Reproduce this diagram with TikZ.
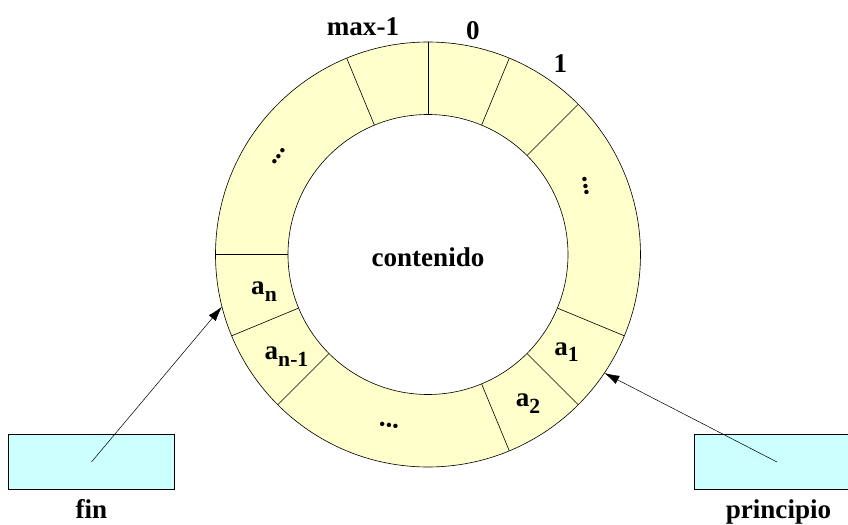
\documentclass[tikz,border=0pt]{standalone}
\usepackage{fontspec}
\setmainfont{Liberation Serif}
\usetikzlibrary{arrows.meta}
\definecolor{celda}{RGB}{255,255,204}
\definecolor{caja}{RGB}{204,255,255}
\newcommand{\sbi}[1]{\raisebox{-3.8pt}{\fontsize{12.3}{14}\selectfont #1}}
\tikzset{
  lbl/.style={font=\bfseries\fontsize{15.4}{18}\selectfont, inner sep=0pt, anchor=base},
  puntos/.style={font=\bfseries\fontsize{15.4}{18}\selectfont, inner sep=0pt},
  cajon/.style={draw, fill=caja, line width=0.6pt, minimum width=3.31cm, minimum height=1.11cm, inner sep=0pt},
  flecha/.style={line width=0.3pt, -{Latex[length=0.3cm,width=0.18cm]}}
}
\begin{document}
\begin{tikzpicture}
    \clip (-8.56,-5.41) rectangle (8.40,5.09);
    \fill[celda, even odd rule] (0,0) circle (4.25) (0,0) circle (2.8);
    \draw[line width=0.35pt] (0,0) circle (4.25);
    \draw[line width=0.35pt] (0,0) circle (2.8);
    \foreach \a in {90,112.5,180,202.5,225,292.5,315,337.5,45,67.5}
    \draw[line width=0.35pt] (\a:2.8)--(\a:4.25);
    \node[lbl] (tmax) at (-1.30,4.39) {max-1};
    \node[lbl] (tcero) at (0.90,4.30) {0};
    \node[lbl] (tuno) at (2.65,3.64) {1};
    \node[lbl] (tcont) at (0,-0.24) {contenido};
    \node[lbl] (an) at (-3.28,-0.80) {a\sbi{n}};
    \node[lbl] (anm) at (-2.83,-2.10) {a\sbi{n-1}};
    \node[lbl] (auno) at (2.77,-2.01) {a\sbi{1}};
    \node[lbl] (ados) at (2.00,-3.04) {a\sbi{2}};
    \node[puntos, rotate=56.25] (pizq) at (-2.98,1.96) {...};
    \node[puntos, rotate=-78.75] (pder) at (3.16,1.37) {...};
    \node[puntos, rotate=-11.25] (pabj) at (-0.78,-3.42) {...};
    \node[cajon] (fin) at (-6.73,-4.15) {};
    \node[cajon] (prin) at (6.98,-4.15) {};
    \node[lbl] (tfin) at (-6.73,-5.28) {fin};
    \node[lbl] (tprin) at (7.01,-5.28) {principio};
    \coordinate (pfin) at (194.2:4.25);
    \coordinate (pprin) at (-33.9:4.25);
    \draw[flecha] (fin.center)--(pfin);
    \draw[flecha] (prin.center)--(pprin);
  \end{tikzpicture}
\end{document}
